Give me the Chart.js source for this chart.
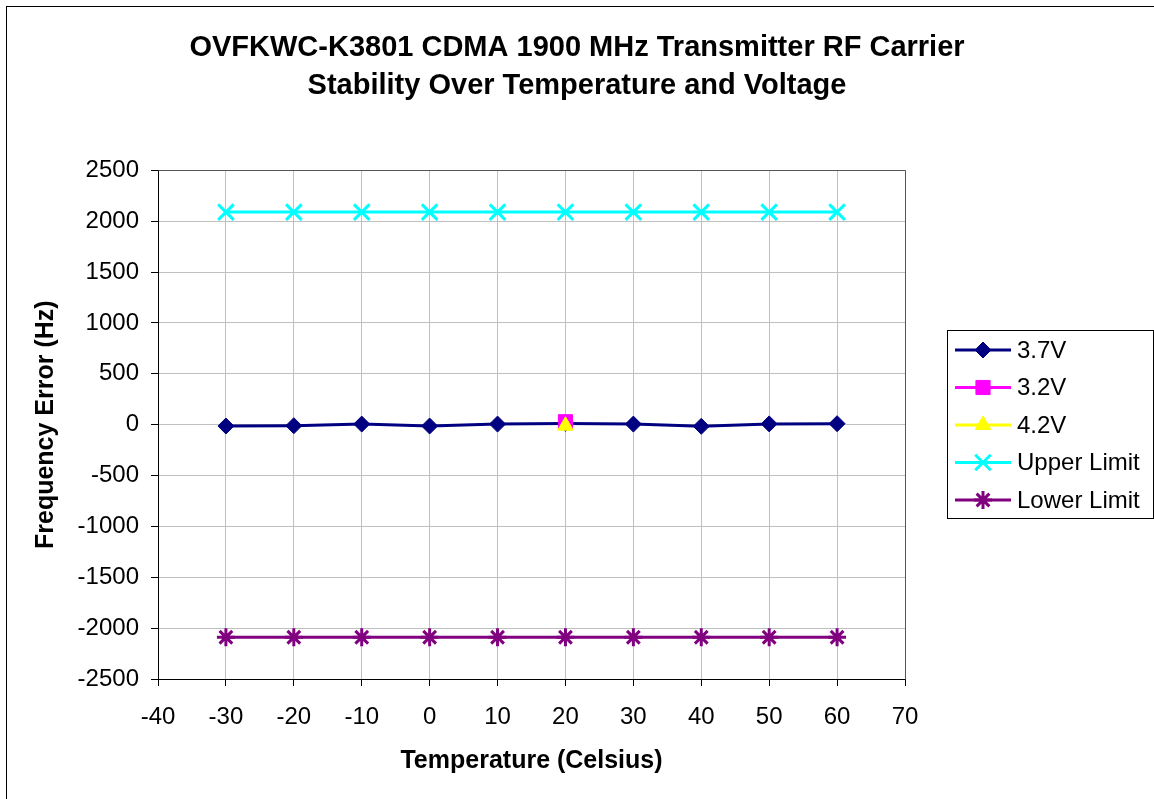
<!DOCTYPE html>
<html>
<head>
<meta charset="utf-8">
<script src="https://cdn.jsdelivr.net/npm/chart.js@4/dist/chart.umd.min.js"></script>
<style>
  body { margin: 0; background: #fff; }
  canvas { display: block; }
</style>
</head>
<body>
<canvas id="chart" width="1154" height="799"></canvas>
<script>
// temperatures (Celsius)
const temps = [-30, -20, -10, 0, 10, 20, 30, 40, 50, 60];
// frequency error (Hz) at 3.7V
const v37 = [-13, -10, 6, -13, 6, 13, 6, -16, 8, 10];
// 3.2V and 4.2V were only measured at 20 C
const v32Temps = [20];
const v32 = [29];
const v42Temps = [20];
const v42 = [-10];
// limits
const upperLimit = [2090, 2090, 2090, 2090, 2090, 2090, 2090, 2090, 2090, 2090];
const lowerLimit = [-2090, -2090, -2090, -2090, -2090, -2090, -2090, -2090, -2090, -2090];

const xTicks = [-40, -30, -20, -10, 0, 10, 20, 30, 40, 50, 60, 70];
const yTicks = [-2500, -2000, -1500, -1000, -500, 0, 500, 1000, 1500, 2000, 2500];

const FONT = '"Liberation Sans", Arial, sans-serif';

function pts(xs, ys) {
    return xs.map(function(x, i) { return {x: x, y: ys[i]}; });
}

// plot box + outer frame + white background
const frame = {
    id: 'frame',
    beforeDraw(chart) {
        const ctx = chart.ctx;
        ctx.save();
        ctx.fillStyle = '#fff';
        ctx.fillRect(0, 0, chart.width, chart.height);
        ctx.restore();
    },
    afterDraw(chart) {
        const ctx = chart.ctx;
        const a = chart.chartArea;
        ctx.save();
        ctx.lineWidth = 1;
        ctx.strokeStyle = '#555';
        ctx.beginPath();
        ctx.moveTo(Math.round(a.left) + 0.5, Math.round(a.top) + 0.5);
        ctx.lineTo(Math.round(a.right) + 0.5, Math.round(a.top) + 0.5);
        ctx.lineTo(Math.round(a.right) + 0.5, Math.round(a.bottom) + 0.5);
        ctx.stroke();
        ctx.strokeStyle = '#000';
        ctx.strokeRect(6.5, 6.5, 1200, 900);
        ctx.restore();
    }
};

// excel-like legend: box with line + marker samples
const boxLegend = {
    id: 'boxLegend',
    afterDraw(chart) {
        const ctx = chart.ctx;
        const left = 947, top = 330, w = 206, h = 188;
        ctx.save();
        ctx.lineWidth = 1;
        ctx.strokeStyle = '#000';
        ctx.strokeRect(left + 0.5, top + 0.5, w, h);
        const items = chart.data.datasets;
        items.forEach(function(ds, i) {
            const y = 350 + i * 37.5;
            ctx.strokeStyle = ds.borderColor;
            ctx.lineWidth = ds.borderWidth;
            ctx.beginPath();
            ctx.moveTo(955, y);
            ctx.lineTo(1011, y);
            ctx.stroke();
            ctx.fillStyle = ds.pointBackgroundColor;
            ctx.strokeStyle = ds.pointBorderColor;
            ctx.lineWidth = ds.pointBorderWidth;
            Chart.helpers.drawPoint(ctx, {
                pointStyle: ds.pointStyle,
                radius: ds.pointRadius,
                rotation: 0,
                borderWidth: ds.pointBorderWidth
            }, 983, y);
            ctx.fillStyle = '#000';
            ctx.font = '24px ' + FONT;
            ctx.textAlign = 'left';
            ctx.textBaseline = 'middle';
            ctx.fillText(ds.label, 1017, y + 1);
        });
        ctx.restore();
    }
};

const data = {
    datasets: [{
        label: '3.7V',
        data: pts(temps, v37),
        borderColor: '#000080',
        borderWidth: 3,
        pointStyle: 'rectRot',
        pointRadius: 8,
        pointBackgroundColor: '#000080',
        pointBorderColor: '#000080',
        pointBorderWidth: 1,
        order: 5
    }, {
        label: '3.2V',
        data: pts(v32Temps, v32),
        borderColor: '#FF00FF',
        borderWidth: 3,
        pointStyle: 'rect',
        pointRadius: 10,
        pointBackgroundColor: '#FF00FF',
        pointBorderColor: '#FF00FF',
        pointBorderWidth: 1,
        order: 4
    }, {
        label: '4.2V',
        data: pts(v42Temps, v42),
        borderColor: '#FFFF00',
        borderWidth: 3,
        pointStyle: 'triangle',
        pointRadius: 9,
        pointBackgroundColor: '#FFFF00',
        pointBorderColor: '#FFFF00',
        pointBorderWidth: 1,
        order: 3
    }, {
        label: 'Upper Limit',
        data: pts(temps, upperLimit),
        borderColor: '#00FFFF',
        borderWidth: 3,
        pointStyle: 'crossRot',
        pointRadius: 11,
        pointBackgroundColor: '#00FFFF',
        pointBorderColor: '#00FFFF',
        pointBorderWidth: 3,
        order: 2
    }, {
        label: 'Lower Limit',
        data: pts(temps, lowerLimit),
        borderColor: '#800080',
        borderWidth: 3,
        pointStyle: 'star',
        pointRadius: 9,
        pointBackgroundColor: '#800080',
        pointBorderColor: '#800080',
        pointBorderWidth: 3,
        order: 1
    }]
};

const config = {
    type: 'line',
    data,
    options: {
        responsive: false,
        animation: false,
        layout: { padding: 0 },
        elements: { line: { tension: 0 } },
        scales: {
            x: {
                type: 'linear',
                min: -40,
                max: 70,
                afterFit: function(scale) { scale.height = 120; },
                afterBuildTicks: function(scale) {
                    scale.ticks = xTicks.map(function(v) { return {value: v}; });
                },
                grid: { color: '#c0c0c0', tickColor: '#000', tickLength: 7 },
                border: { color: '#000', width: 1 },
                ticks: {
                    color: '#000',
                    font: { family: FONT, size: 24 },
                    padding: 17,
                    maxRotation: 0,
                    autoSkip: false,
                    callback: function(v) { return String(v); }
                },
                title: {
                    display: true,
                    text: 'Temperature (Celsius)',
                    color: '#000',
                    font: { family: FONT, size: 25, weight: 'bold', lineHeight: 1.2 },
                    padding: { top: 0, bottom: 23 }
                }
            },
            y: {
                min: -2500,
                max: 2500,
                afterFit: function(scale) { scale.width = 158; },
                afterBuildTicks: function(scale) {
                    scale.ticks = yTicks.map(function(v) { return {value: v}; });
                },
                grid: { color: '#c0c0c0', tickColor: '#000', tickLength: 7 },
                border: { color: '#000', width: 1 },
                ticks: {
                    color: '#000',
                    font: { family: FONT, size: 24 },
                    padding: 12,
                    autoSkip: false,
                    callback: function(v) { return String(v); }
                },
                title: {
                    display: true,
                    text: 'Frequency Error (Hz)',
                    color: '#000',
                    font: { family: FONT, size: 25, weight: 'bold', lineHeight: 1.2 },
                    padding: { top: 31, bottom: 0 }
                }
            },
            // empty right-hand axis that reserves room for the legend box
            legendSpace: {
                type: 'linear',
                position: 'right',
                afterFit: function(scale) { scale.width = 249; },
                grid: { display: false },
                border: { display: false },
                ticks: { display: false }
            }
        },
        plugins: {
            legend: { display: false },
            tooltip: { enabled: false },
            title: {
                display: true,
                text: ['OVFKWC-K3801 CDMA 1900 MHz Transmitter RF Carrier',
                       'Stability Over Temperature and Voltage'],
                color: '#000',
                font: { family: FONT, size: 29, weight: 'bold', lineHeight: 1.3 },
                padding: { top: 29, bottom: 66 }
            }
        }
    },
    plugins: [frame, boxLegend]
};

const myChart = new Chart(document.getElementById('chart'), config);
</script>
</body>
</html>
